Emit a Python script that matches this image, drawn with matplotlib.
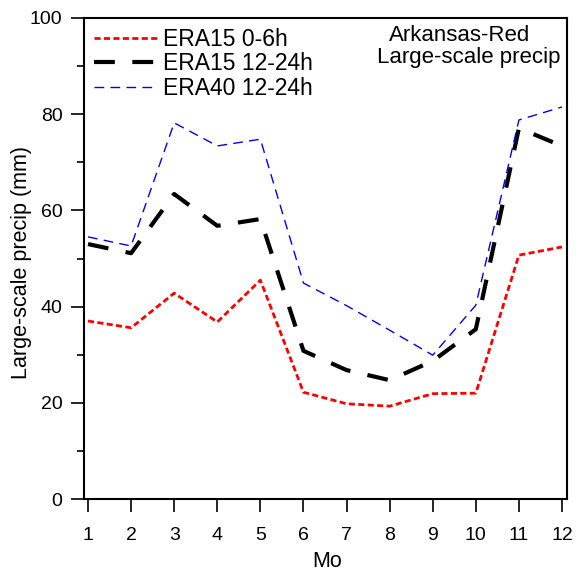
import matplotlib
matplotlib.use("Agg")
import matplotlib.pyplot as plt
from matplotlib.ticker import MultipleLocator

plt.rcParams['font.family'] = ['Liberation Sans', 'DejaVu Sans']

months = [1, 2, 3, 4, 5, 6, 7, 8, 9, 10, 11, 12]
era15_06 = [37.0, 35.6, 42.8, 36.8, 45.5, 22.2, 19.8, 19.3, 21.9, 22.0, 50.7, 52.4]
era15_1224 = [53.0, 51.1, 63.4, 56.8, 58.2, 30.8, 26.8, 24.7, 28.7, 35.3, 77.1, 73.4]
era40_1224 = [54.5, 52.6, 78.2, 73.4, 74.8, 44.9, 40.2, 35.1, 29.9, 40.3, 78.8, 81.5]

W = H = 577
fig = plt.figure(figsize=(5.77, 5.77), dpi=100)
ax = fig.add_axes([84/W, 1 - 499/H, (567-84)/W, (499-18)/H])

ax.plot(months, era15_06, color='#ff0000', lw=2.0, dashes=(2.2, 1.2), label='ERA15 0-6h')
ax.plot(months, era15_1224, color='black', lw=3.0, dashes=(5.0, 4.2), label='ERA15 12-24h')
ax.plot(months, era40_1224, color='#0000ff', lw=1.0, dashes=(7, 4.5), label='ERA40 12-24h')

ax.set_xlim(0.907, 12.116)
ax.set_ylim(0, 100)
ax.set_xticks(months)
ax.yaxis.set_major_locator(MultipleLocator(20))
ax.yaxis.set_minor_locator(MultipleLocator(10))
ax.tick_params(axis='both', which='major', direction='out', length=9.5, width=1.2, labelsize=14)
ax.tick_params(axis='y', which='minor', direction='out', length=5, width=1.2)
ax.tick_params(axis='x', pad=10.5)
ax.tick_params(axis='y', pad=6)
for s in ax.spines.values():
    s.set_linewidth(1.5)

ax.set_xlabel('Mo', fontsize=15.5)
ax.xaxis.set_label_coords(0.503, -0.108)
ax.set_ylabel('Large-scale precip (mm)', fontsize=15.5)
ax.yaxis.set_label_coords(-0.108, 0.4917)

ax.legend(loc='upper left', frameon=False, fontsize=16.5, handlelength=2.75,
          bbox_to_anchor=(0.0, 1.0), borderaxespad=0.25, labelspacing=0.05,
          handletextpad=0.26, borderpad=0.2)

fig.text(389/W, 1 - 25/H, 'Arkansas-Red', ha='left', va='top', fontsize=16)
fig.text(377/W, 1 - 47/H, 'Large-scale precip', ha='left', va='top', fontsize=16)

fig.savefig('out.png', dpi=100)
